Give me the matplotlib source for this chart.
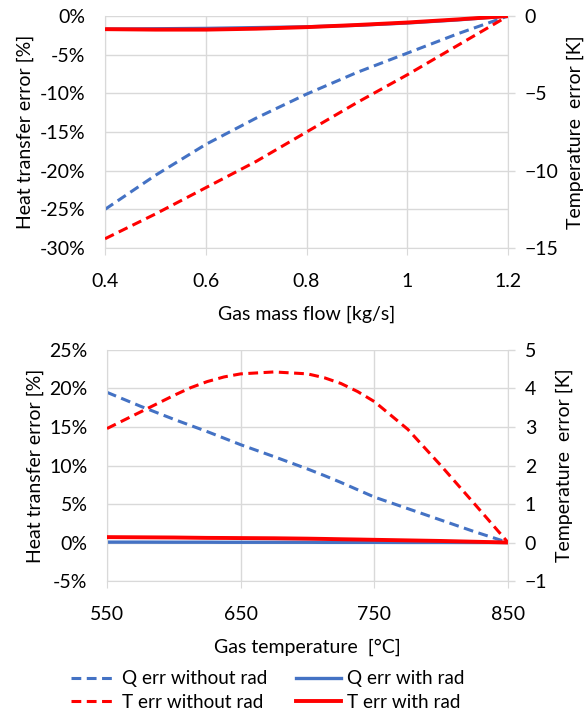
import matplotlib
matplotlib.use("Agg")
import matplotlib.pyplot as plt
from matplotlib.ticker import FuncFormatter
from matplotlib.lines import Line2D

plt.rcParams['font.family'] = ['Lato', 'DejaVu Sans']

# top chart: gas mass flow [kg/s]
flow = [0.4, 0.5, 0.6, 0.7, 0.8, 0.9, 1.0, 1.1, 1.2]
q_norad_flow = [-25.0, -20.6, -16.6, -13.2, -10.1, -7.3, -4.8, -2.3, 0.0]   # %
q_rad_flow = [-1.7, -1.65, -1.6, -1.5, -1.4, -1.2, -0.9, -0.5, 0.0]          # %
t_norad_flow = [-14.4, -12.8, -11.1, -9.4, -7.5, -5.6, -3.8, -1.9, 0.0]     # K
t_rad_flow = [-0.85, -0.88, -0.88, -0.82, -0.72, -0.58, -0.42, -0.22, 0.0]  # K

# bottom chart: gas temperature [°C]
temp = [550, 575, 600, 612.5, 625, 637.5, 650, 675, 700, 712.5, 725, 737.5, 750, 775, 800, 825, 850]
q_norad_temp = [19.5, 17.7, 16.0, 15.2, 14.4, 13.55, 12.7, 11.15, 9.55, 8.7, 7.8, 6.85, 5.9, 4.4, 2.9, 1.4, 0.0]  # %
q_rad_temp = [0.05, 0.05, 0.04, 0.04, 0.04, 0.03, 0.03, 0.03, 0.03, 0.02, 0.02, 0.02, 0.02, 0.01, 0.01, 0.0, 0.0]  # %
t_norad_temp = [2.96, 3.39, 3.82, 4.02, 4.18, 4.3, 4.38, 4.43, 4.38, 4.28, 4.13, 3.92, 3.66, 2.94, 1.99, 1.0, 0.0]  # K
t_rad_temp = [0.14, 0.135, 0.13, 0.125, 0.12, 0.118, 0.115, 0.11, 0.1, 0.093, 0.085, 0.078, 0.07, 0.055, 0.04, 0.02, 0.0]  # K

BLUE = '#4472C4'
RED = '#FF0000'
GRID = '#D9D9D9'
FS = 14
DASH = (0, (3.2, 1.8))


def style(ax, ax2):
    for a in (ax, ax2):
        for s in a.spines.values():
            s.set_visible(False)
        a.tick_params(labelsize=FS, colors='#000000', length=0, pad=14)
    ax.spines['left'].set_visible(True)
    ax.spines['left'].set_color(GRID)
    ax.spines['bottom'].set_visible(True)
    ax.spines['bottom'].set_color(GRID)
    ax2.spines['right'].set_visible(True)
    ax2.spines['right'].set_color(GRID)
    ax2.tick_params(axis='y', length=5, color=GRID, width=1, pad=7)
    ax.tick_params(axis='x', length=5, color=GRID, pad=13)
    ax.grid(True, color=GRID, linewidth=1)
    ax.set_axisbelow(True)


fig = plt.figure(figsize=(5.88, 7.15), dpi=100)

pct = FuncFormatter(lambda v, p: '%d%%' % round(v))

# top
ax1 = fig.add_axes([0.1786, 0.6531, 0.6854, 0.3245])
ax1b = ax1.twinx()
ax1.plot(flow, q_norad_flow, color=BLUE, lw=2.2, ls=DASH)
ax1.plot(flow, q_rad_flow, color=BLUE, lw=2.4)
ax1b.plot(flow, t_norad_flow, color=RED, lw=2.2, ls=DASH)
ax1b.plot(flow, t_rad_flow, color=RED, lw=2.8)
ax1.set_xlim(0.4, 1.2)
ax1.set_ylim(-30, 0)
ax1b.set_ylim(-15, 0)
ax1.set_xticks([0.4, 0.6, 0.8, 1.0, 1.2])
ax1.set_xticklabels(['0.4', '0.6', '0.8', '1', '1.2'])
ax1.set_yticks(range(-30, 1, 5))
ax1.yaxis.set_major_formatter(pct)
ax1b.set_yticks(range(-15, 1, 5))
style(ax1, ax1b)
ax1.set_xlabel('Gas mass flow [kg/s]', fontsize=FS, labelpad=11)
ax1.set_ylabel('Heat transfer error [%]', fontsize=FS, labelpad=4)
ax1b.set_ylabel('Temperature  error [K]', fontsize=FS, labelpad=6)

# bottom
ax2 = fig.add_axes([0.182, 0.1874, 0.682, 0.3231])
ax2b = ax2.twinx()
ax2.plot(temp, q_norad_temp, color=BLUE, lw=2.2, ls=DASH)
ax2.plot(temp, q_rad_temp, color=BLUE, lw=2.4)
ax2b.plot(temp, t_norad_temp, color=RED, lw=2.2, ls=DASH)
ax2b.plot(temp, t_rad_temp, color=RED, lw=2.8)
ax2.set_xlim(550, 850)
ax2.set_ylim(-5, 25)
ax2b.set_ylim(-1, 5)
ax2.set_xticks([550, 650, 750, 850])
ax2.set_yticks(range(-5, 26, 5))
ax2.yaxis.set_major_formatter(pct)
ax2b.set_yticks(range(-1, 6, 1))
style(ax2, ax2b)
ax2.set_xlabel('Gas temperature  [°C]', fontsize=FS, labelpad=11)
ax2.set_ylabel('Heat transfer error [%]', fontsize=FS, labelpad=4)
ax2b.set_ylabel('Temperature  error [K]', fontsize=FS, labelpad=6)

handles = [
    Line2D([], [], color=BLUE, lw=2.2, ls=DASH),
    Line2D([], [], color=RED, lw=2.2, ls=DASH),
    Line2D([], [], color=BLUE, lw=2.4),
    Line2D([], [], color=RED, lw=2.8),
]
labels = ['Q err without rad', 'T err without rad', 'Q err with rad', 'T err with rad']
fig.legend(handles, labels, ncol=2, loc='center', bbox_to_anchor=(0.455, 0.034),
           frameon=False, fontsize=13.6, handlelength=2.4, handletextpad=0.3,
           columnspacing=1.5, labelspacing=0.35)

fig.savefig('out.png', dpi=100)
